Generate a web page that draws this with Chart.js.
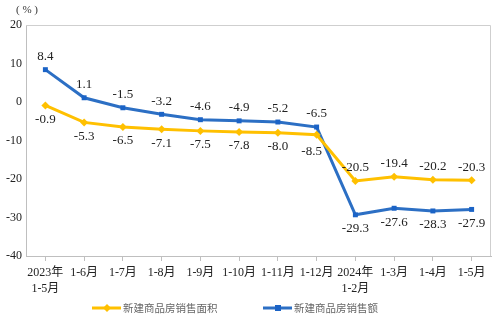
<!DOCTYPE html>
<html>
<head>
<meta charset="utf-8">
<script src="https://cdn.jsdelivr.net/npm/chart.js@4/dist/chart.umd.min.js"></script>
<style>
  html, body { margin: 0; padding: 0; background: #fff; }
  #wrap { width: 496px; height: 325px; }
</style>
</head>
<body>
<div id="wrap"><canvas id="myChart" width="496" height="325"></canvas></div>
<script>
  // 月份标签
  const labels = [['2023年', '1-5月'], '1-6月', '1-7月', '1-8月', '1-9月', '1-10月', '1-11月', '1-12月',
    ['2024年', '1-2月'], '1-3月', '1-4月', '1-5月'];
  // 新建商品房销售面积 同比(%)
  const areaData = [-0.9, -5.3, -6.5, -7.1, -7.5, -7.8, -8.0, -8.5, -20.5, -19.4, -20.2, -20.3];
  // 新建商品房销售额 同比(%)
  const salesData = [8.4, 1.1, -1.5, -3.2, -4.6, -4.9, -5.2, -6.5, -29.3, -27.6, -28.3, -27.9];
  const yTicks = [-40, -30, -20, -10, 0, 10, 20];

  const yellow = '#FFC000';
  const blue = '#2C6FC4';
  const serif = "'Liberation Serif', 'Noto Sans CJK SC', serif";

  function drawMarker(g, shape, x, y, color) {
    g.fillStyle = color;
    if (shape === 'diamond') {
      g.beginPath(); g.moveTo(x, y - 4); g.lineTo(x + 4, y); g.lineTo(x, y + 4); g.lineTo(x - 4, y); g.closePath(); g.fill();
    } else {
      g.fillRect(x - 3, y - 3, 6, 6);
    }
  }

  // 数据标签 + 边框 + 单位 + 图例
  const extras = {
    id: 'extras',
    afterDatasetsDraw(chart) {
      const ctx = chart.ctx;
      const area = chart.chartArea;
      ctx.save();
      ctx.strokeStyle = '#cfcfcf';
      ctx.lineWidth = 1;
      ctx.beginPath();
      ctx.moveTo(area.left, area.top + 0.5);
      ctx.lineTo(area.right - 0.5, area.top + 0.5);
      ctx.lineTo(area.right - 0.5, area.bottom);
      ctx.stroke();

      ctx.font = '13px ' + serif;
      ctx.fillStyle = '#222';
      ctx.textAlign = 'center';
      ctx.textBaseline = 'middle';
      chart.data.datasets.forEach((ds, di) => {
        const meta = chart.getDatasetMeta(di);
        meta.data.forEach((pt, i) => {
          const v = ds.data[i];
          let up = di === 1; // 销售额在上
          if (i >= 8) up = !up;
          let dx = 0, dy = up ? -13 : 14;
          if (di === 0 && i === 7) { dx = -5; dy = 17; } // -8.5 稍微错开
          ctx.fillText(v.toFixed(1), pt.x + dx, pt.y + dy);
        });
      });

      ctx.font = '11px ' + serif;
      ctx.fillStyle = '#333';
      ctx.textAlign = 'left';
      ctx.fillText('( % )', 16, 10);

      // 图例
      const ly = 308;
      const items = [[92, 0, 'diamond'], [263, 1, 'rect']];
      ctx.font = "10.5px 'Noto Sans CJK SC', sans-serif";
      items.forEach(([x0, di, shape]) => {
        const ds = chart.data.datasets[di];
        ctx.strokeStyle = ds.borderColor;
        ctx.lineWidth = 3;
        ctx.beginPath(); ctx.moveTo(x0, ly); ctx.lineTo(x0 + 29, ly); ctx.stroke();
        drawMarker(ctx, shape, x0 + 15, ly, ds.backgroundColor);
        ctx.fillStyle = '#666';
        ctx.fillText(ds.label, x0 + 31, ly);
      });
      ctx.restore();
    }
  };

  const ctx = document.getElementById('myChart').getContext('2d');

  const myChart = new Chart(ctx, {
    type: 'line',
    data: {
      labels: labels,
      datasets: [{
        label: '新建商品房销售面积',
        data: areaData,
        borderColor: yellow,
        backgroundColor: yellow,
        borderWidth: 3,
        pointStyle: 'rectRot',
        pointRadius: 4,
        pointBorderWidth: 0,
        tension: 0,
        fill: false,
      }, {
        label: '新建商品房销售额',
        data: salesData,
        borderColor: blue,
        backgroundColor: '#1B63C6',
        borderWidth: 3,
        pointStyle: 'rect',
        pointRadius: 3.5,
        pointBorderWidth: 0,
        tension: 0,
        fill: false,
      }],
    },
    options: {
      responsive: false,
      animation: false,
      layout: { padding: { top: 25, right: 5, left: 0, bottom: 29 } },
      plugins: {
        tooltip: { enabled: false },
        legend: { display: false }
      },
      scales: {
        x: {
          offset: true,
          grid: { display: true, drawOnChartArea: false, drawTicks: true, tickLength: 5, color: '#bfbfbf' },
          border: { display: true, color: '#bfbfbf' },
          ticks: { color: '#222', font: { family: serif, size: 12, lineHeight: 1.35 }, padding: 4, maxRotation: 0, autoSkip: false },
          afterFit(scale) { scale.height = 40; }
        },
        y: {
          min: -40,
          max: 20,
          afterBuildTicks(scale) { scale.ticks = yTicks.map(v => ({ value: v })); },
          grid: { display: true, drawOnChartArea: false, drawTicks: false },
          border: { display: true, color: '#bfbfbf' },
          ticks: { color: '#222', font: { family: serif, size: 12 }, padding: 4 },
          afterFit(scale) { scale.width = 26; }
        }
      }
    },
    plugins: [extras]
  });
</script>
</body>
</html>
